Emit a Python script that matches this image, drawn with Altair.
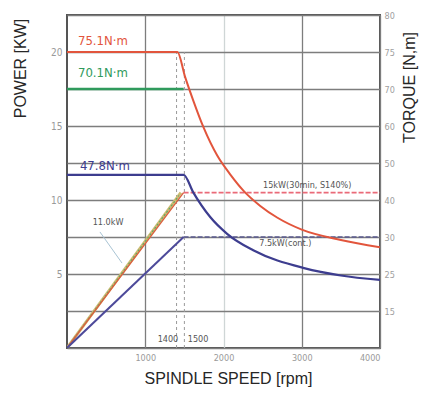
import altair as alt
import pandas as pd

# ---------------- data ----------------
speed_ticks = [1000, 2000, 3000, 4000]
power_grid = [0, 2.5, 5, 7.5, 10, 12.5, 15, 17.5, 20, 22.5]
power_labels = ["", "", "5", "", "10", "", "15", "", "20", ""]
torque_grid = [2.5, 5, 7.5, 10, 12.5, 15, 17.5, 20, 22.5]
torque_labels = ["15", "25", "30", "40", "50", "60", "70", "75", "80"]

# 75.1 N·m torque curve (red)
red_rpm = [0, 1410, 1510, 1615, 1745, 1920, 2090, 2260, 2470, 2690, 3000, 3500, 4000]
red_kw = [20, 20, 18.3, 16.7, 14.9, 13.0, 11.7, 10.6, 9.6, 8.8, 8.0, 7.3, 6.8]
# 70.1 N·m torque (green)
green_rpm = [0, 1490]
green_kw = [17.5, 17.5]
# 47.8 N·m torque curve (navy)
blue_rpm = [0, 1490, 1615, 1830, 2050, 2380, 3030, 3500, 4000]
blue_kw = [11.7, 11.7, 10.5, 8.85, 7.7, 6.6, 5.4, 4.9, 4.6]

# power ramps
s6_rpm = [0, 1490]
s6_kw = [0, 10.5]
s6b_rpm = [0, 1455]
s6b_kw = [0, 10.5]
s6c_rpm = [0, 1430]
s6c_kw = [0, 10.3]
cont_rpm = [0, 1490]
cont_kw = [0, 7.5]
# constant power (dashed)
s6_flat_rpm = [1490, 4000]
s6_flat_kw = [10.5, 10.5]
cont_flat_rpm = [1490, 4000]
cont_flat_kw = [7.5, 7.5]
# base speed markers
v1400_rpm = [1400, 1400]
v1500_rpm = [1500, 1500]
vmark_kw = [0, 20]
# pointer for 11.0kW label
ptr_rpm = [421, 703]
ptr_kw = [7.84, 5.74]

torque_text = ["75.1N·m", "70.1N·m", "47.8N·m"]
torque_text_rpm = [140, 140, 165]
torque_text_kw = [20.75, 18.6, 12.3]
torque_text_col = ["#e2553c", "#2f9a5c", "#3d3d8f"]

note_text = ["15kW(30min, S140%)", "7.5kW(cont.)", "11.0kW", "1400", "1500"]
note_rpm = [3070, 2790, 525, 1290, 1675]
note_kw = [11.0, 7.1, 8.5, 0.6, 0.6]

NARROW = "DejaVu Sans Condensed, Liberation Sans, sans-serif"

# ---------------- encodings ----------------
def label_expr(vals, labels):
    return " : ".join(f"datum.value == {v} ? '{l}'" for v, l in zip(vals, labels)) + " : ''"

xs = alt.Scale(domain=[0, 4000], nice=False)
ys = alt.Scale(domain=[0, 22.5], nice=False)

x_axis = alt.Axis(
    values=speed_ticks, format="d", title="SPINDLE SPEED [rpm]", grid=True,
    gridColor={"condition": {"test": "datum.value == 2000", "value": "#cfd6d6"}, "value": "#7d7d7d"},
    gridWidth=1.3, domain=False, ticks=False, labelPadding=5,
    labelColor="#9a9a9a", labelFontSize=9, labelFont=NARROW,
    titleFont="Liberation Sans", titleFontSize=16, titleColor="#262626", titleFontWeight="normal",
    titleX=161, titleY=30, titleBaseline="middle", titleAlign="center",
)
y_axis = alt.Axis(
    values=power_grid, labelExpr=label_expr(power_grid, power_labels),
    title="POWER [KW]", grid=True, gridColor="#7d7d7d", gridWidth=1.3,
    domain=False, ticks=False, labelPadding=5,
    labelColor="#9a9a9a", labelFontSize=10, labelFont=NARROW,
    titleFont="Liberation Sans", titleFontSize=16, titleColor="#262626", titleFontWeight="normal",
    titleX=-47, titleY=53, titleAngle=270, titleBaseline="middle", titleAlign="center",
)
r_axis = alt.Axis(
    orient="right", values=torque_grid, labelExpr=label_expr(torque_grid, torque_labels),
    title="TORQUE [N,m]", grid=False, domain=False, ticks=False, labelPadding=4,
    labelColor="#a0a0a0", labelFontSize=9, labelFont=NARROW,
    titleFont="Liberation Sans", titleFontSize=16, titleColor="#262626", titleFontWeight="normal",
    titleX=29, titleY=72, titleAngle=270, titleBaseline="middle", titleAlign="center",
)

X = alt.X("rpm:Q", scale=xs, axis=x_axis)
Y = alt.Y("kw:Q", scale=ys, axis=y_axis)


def line(rpm, kw, color, width=2.0, dash=None, interp="linear", opacity=1.0):
    df = pd.DataFrame({"rpm": rpm, "kw": kw})
    kw_ = dict(color=color, strokeWidth=width, interpolate=interp, opacity=opacity, clip=True)
    if dash:
        kw_["strokeDash"] = dash
    return alt.Chart(df).mark_line(**kw_).encode(x=X, y=Y)


layers = [
    line(v1400_rpm, vmark_kw, "#9a9a9a", 1, dash=[3, 3]),
    line(v1500_rpm, vmark_kw, "#9a9a9a", 1, dash=[3, 3]),
    line(ptr_rpm, ptr_kw, "#a9c4d4", 1),
    line(s6_flat_rpm, s6_flat_kw, "#ea6a78", 1.6, dash=[5, 2]),
    line(cont_flat_rpm, cont_flat_kw, "#5a5a8e", 1.6, dash=[5, 2]),
    line(s6b_rpm, s6b_kw, "#cdbb72", 3),
    line(s6c_rpm, s6c_kw, "#5fa86a", 1.2, dash=[2, 2]),
    line(s6_rpm, s6_kw, "#d9603f", 1.4),
    line(cont_rpm, cont_kw, "#4d4a9a", 2),
    line(green_rpm, green_kw, "#2f9a5c", 2.6),
    line(blue_rpm, blue_kw, "#3d3d8f", 2.2, interp="monotone"),
    line(red_rpm, red_kw, "#e2553c", 2.0, interp="monotone"),
]

tt = pd.DataFrame({"rpm": torque_text_rpm, "kw": torque_text_kw, "label": torque_text, "col": torque_text_col})
layers.append(
    alt.Chart(tt).mark_text(align="left", baseline="middle", fontSize=13, font=NARROW).encode(
        x=X, y=Y, text="label:N", color=alt.Color("col:N", scale=None))
)
nt = pd.DataFrame({"rpm": note_rpm, "kw": note_kw, "label": note_text})
layers.append(
    alt.Chart(nt).mark_text(align="center", baseline="middle", fontSize=9, font=NARROW,
                            color="#555").encode(x=X, y=Y, text="label:N")
)

main = alt.layer(*layers)

right = alt.Chart(pd.DataFrame({"rpm": [0, 0], "t": [0, 22.5]})).mark_point(opacity=0).encode(
    x=X, y=alt.Y("t:Q", scale=ys, axis=r_axis)
)

chart = alt.layer(main, right).resolve_scale(y="independent").properties(
    width=313, height=333,
    autosize=alt.AutoSizeParams(type="none"),
    padding={"left": 59, "top": 7, "right": 46, "bottom": 39},
    background="white",
).configure_view(stroke="#555555", strokeWidth=2)

chart.save("out.html", embed_options={"renderer": "svg", "actions": False})
